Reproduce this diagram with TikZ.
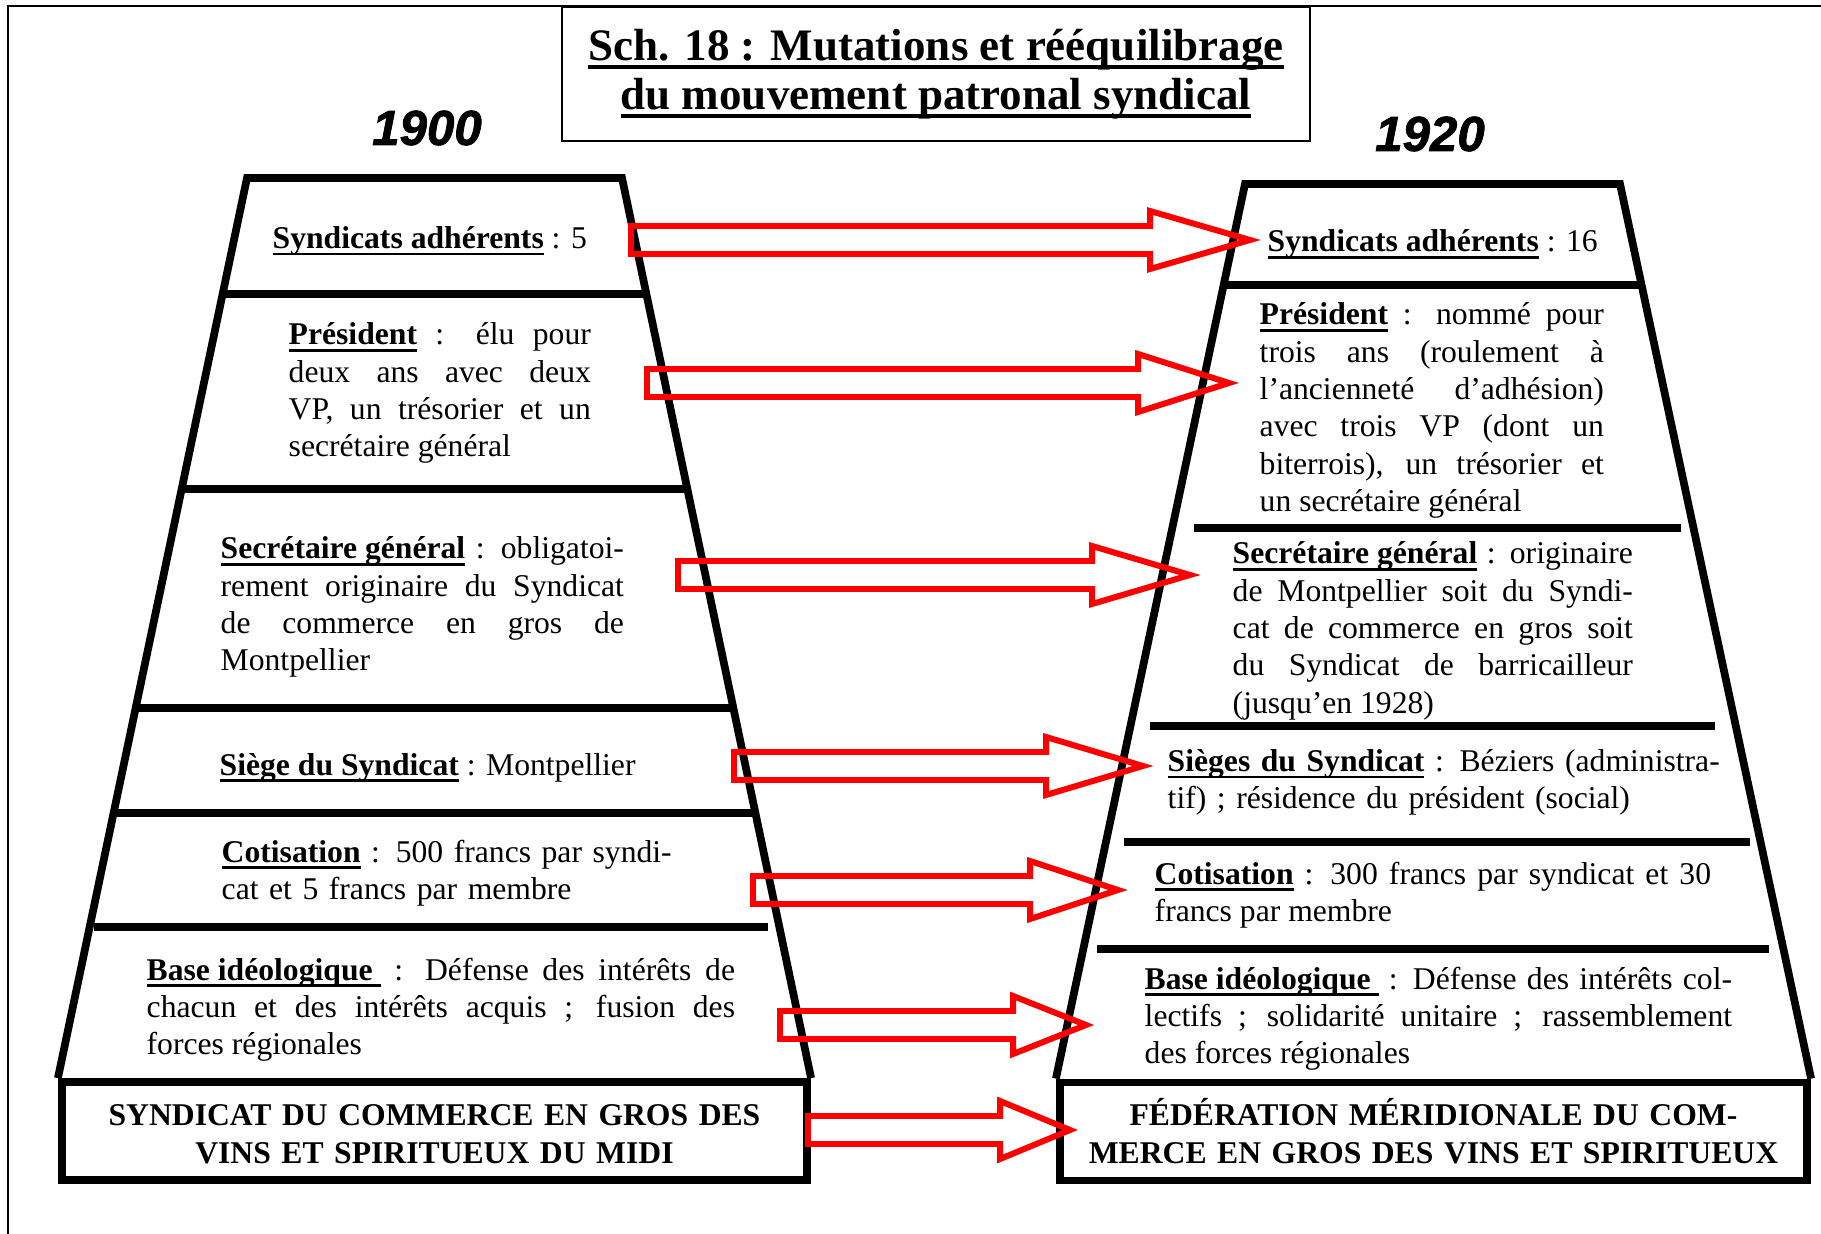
\documentclass[tikz,border=0pt]{standalone}
\usepackage{fontspec}
\setmainfont{Liberation Serif}
\newfontfamily\yearfont[FakeBold=1.5]{Liberation Sans}
\usetikzlibrary{calc,positioning}
\definecolor{ArrowRed}{HTML}{FF0000}
\definecolor{PlanInk}{HTML}{000000}
\tolerance=10000
\hyphenpenalty=10000
\hbadness=10000
\newcommand{\term}[1]{\setbox0\hbox{\textbf{#1}}\rlap{\rule[-1.9pt]{\wd0}{0.75pt}}\box0\relax}
\newcommand{\headline}[1]{\setbox0\hbox{#1}\rlap{\rule[-2.4pt]{\wd0}{1.1pt}}\box0\relax}
\newcommand{\mutate}[3]{%
  \draw[mutation] ($(#1)+(0,-14)$) -- ($(#2)+(-#3,-14)$) -- ($(#2)+(-#3,-29)$) -- (#2)
    -- ($(#2)+(-#3,29)$) -- ($(#2)+(-#3,14)$) -- ($(#1)+(0,14)$) -- cycle;}

\begin{document}
\begin{tikzpicture}[x=0.01cm, y=-0.01cm,
  tier/.style={line width=2.2pt, draw=PlanInk, line join=miter},
  rung/.style={line width=2pt, draw=PlanInk},
  mutation/.style={line width=1.7pt, draw=ArrowRed},
  entry/.style={inner sep=0pt, anchor=base west, font=\fontsize{9}{10.6}\selectfont},
  para/.style={entry, text width=#1, align=justify},
  ragged/.style={entry, text width=#1, align=left},
  basebox/.style={draw=PlanInk, line width=2.2pt, inner sep=0pt, text width=#1,
                  minimum height=0.98cm, align=center,
                  font=\fontsize{9}{10.8}\selectfont\bfseries},
  yearlbl/.style={inner sep=0pt, font=\yearfont\fontsize{14}{14}\selectfont\bfseries\itshape},
  titlebox/.style={draw=PlanInk, line width=0.7pt, minimum width=7.48cm, minimum height=1.34cm,
                   align=center, font=\fontsize{12.8}{13.9}\selectfont\bfseries}
]
\useasboundingbox (0,0) rectangle (1821,1234);
\draw[line width=0.8pt] (8,1234) -- (8,6) -- (1821,6);

\node[titlebox] (title) at (936,74)
  {\headline{Sch. 18 : Mutations et rééquilibrage}\\\headline{du mouvement patronal syndical}};
\node[yearlbl] (y1900) at (427,128) {1900};
\node[yearlbl] (y1920) at (1430,134) {1920};

\coordinate (ltl) at (247,178);
\coordinate (ltr) at (622,178);
\node[basebox=7.45cm] (lorg) at (434.5,1131)
  {\vphantom{É}SYNDICAT DU COMMERCE EN GROS DES\\VINS ET SPIRITUEUX DU MIDI};
\draw[tier] (lorg.north west) -- (ltl) -- (ltr) -- (lorg.north east);
\foreach \yy/\xa/\xb in {294/223/646, 489/183/686, 708/138/731, 813/117/752, 927/94/768}
  \draw[rung] (\xa,\yy) -- (\xb,\yy);

\coordinate (rtl) at (1245,184);
\coordinate (rtr) at (1620,184);
\node[basebox=7.47cm] (rorg) at (1433.5,1131.5)
  {FÉDÉRATION MÉRIDIONALE DU COM-\\MERCE EN GROS DES VINS ET SPIRITUEUX};
\draw[tier] (rorg.north west) -- (rtl) -- (rtr) -- (rorg.north east);
\foreach \yy/\xa/\xb in {285/1224/1641, 528/1194/1681, 726/1150/1715, 842/1124/1750, 949/1097/1769}
  \draw[rung] (\xa,\yy) -- (\xb,\yy);

\node[entry] (lsyn) at (272,248.5) {\term{Syndicats adhérents} : 5};
\node[para=3.02cm] (lpres) at (288,345)
  {\term{Président} : élu pour\linebreak deux ans avec deux\linebreak
   VP, un trésorier et un\linebreak secrétaire général};
\node[para=4.03cm] (lsec) at (220,559)
  {\term{Secrétaire général} : obligatoi-\linebreak rement originaire du Syndicat\linebreak
   de commerce en gros de\linebreak Montpellier};
\node[entry] (lsiege) at (219,775) {\term{Siège du Syndicat} : Montpellier};
\node[ragged=4.6cm] (lcot) at (221,862)
  {\term{Cotisation} : 500 francs par syndi-\\cat et 5 francs par membre};
\node[para=5.88cm] (lbase) at (146,980)
  {\term{Base idéologique\ } : Défense des intérêts de\linebreak
   chacun et des intérêts acquis ; fusion des\linebreak forces régionales};

\node[entry] (rsyn) at (1267,252) {\term{Syndicats adhérents} : 16};
\node[para=3.44cm] (rpres) at (1259,325)
  {\term{Président} : nommé pour\linebreak trois ans (roulement à\linebreak
   l’ancienneté d’adhésion)\linebreak avec trois VP (dont un\linebreak
   biterrois), un trésorier et\linebreak un secrétaire général};
\node[para=4.0cm] (rsec) at (1232,564)
  {\term{Secrétaire général} : originaire\linebreak de Montpellier soit du Syndi-\linebreak
   cat de commerce en gros soit\linebreak du Syndicat de barricailleur\linebreak
   (jusqu’en 1928)};
\node[ragged=5.6cm] (rsieges) at (1167,771.5)
  {\term{Sièges du Syndicat} : Béziers (administra-\\tif) ; résidence du président (social)};
\node[para=5.56cm] (rcot) at (1154,884)
  {\term{Cotisation} : 300 francs par syndicat et 30\linebreak francs par membre};
\node[para=5.87cm] (rbase) at (1144,989)
  {\term{Base idéologique\ } : Défense des intérêts col-\linebreak
   lectifs ; solidarité unitaire ; rassemblement\linebreak des forces régionales};

\coordinate (a1s) at (631,240);  \coordinate (a1e) at (1250,240);
\coordinate (a2s) at (647,383);  \coordinate (a2e) at (1229,383);
\coordinate (a3s) at (678,575);  \coordinate (a3e) at (1190,575);
\coordinate (a4s) at (734,766);  \coordinate (a4e) at (1143,766);
\coordinate (a5s) at (753,890);  \coordinate (a5e) at (1118,890);
\coordinate (a6s) at (780,1025); \coordinate (a6e) at (1086,1025);
\coordinate (a7s) at (808,1130); \coordinate (a7e) at (1070,1130);
\mutate{a1s}{a1e}{100}
\mutate{a2s}{a2e}{91}
\mutate{a3s}{a3e}{98}
\mutate{a4s}{a4e}{97}
\mutate{a5s}{a5e}{88}
\mutate{a6s}{a6e}{73}
\mutate{a7s}{a7e}{70}
\end{tikzpicture}
\end{document}
